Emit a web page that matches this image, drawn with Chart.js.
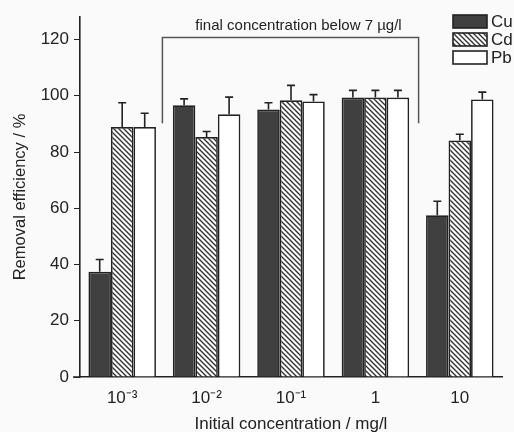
<!DOCTYPE html>
<html>
<head>
<meta charset="utf-8">
<script src="https://cdn.jsdelivr.net/npm/chart.js@4/dist/chart.umd.min.js"></script>
<style>
  html, body { margin: 0; padding: 0; background: #fafafa; }
  #wrap { width: 514px; height: 432px; }
</style>
</head>
<body>
<div id="wrap"><canvas id="chart" width="514" height="432"></canvas></div>
<script>
// data
const concentrations = ['10\u207B\u00B3', '10\u207B\u00B2', '10\u207B\u00B9', '1', '10'];
const cu = [37.4, 96.6, 95.1, 99.4, 57.5];
const cuErr = [4.4, 2.3, 2.4, 2.5, 5.0];
const cd = [88.9, 85.3, 98.4, 99.4, 84.1];
const cdErr = [8.6, 2.0, 5.3, 2.5, 2.2];
const pb = [88.9, 93.4, 98.0, 99.4, 98.7];
const pbErr = [4.9, 6.1, 2.4, 2.5, 2.6];
const yTicks = [0, 20, 40, 60, 80, 100, 120];
const bracketNote = 'final concentration below 7 \u00B5g/l';

const FONT = '"Liberation Sans", Arial, sans-serif';
const INK = '#222';

function makeHatch() {
    const s = 5;
    const c = document.createElement('canvas');
    c.width = s; c.height = s;
    const g = c.getContext('2d');
    g.fillStyle = '#ffffff';
    g.fillRect(0, 0, s, s);
    g.strokeStyle = '#333';
    g.lineWidth = 1.4;
    g.beginPath();
    for (const o of [-s, 0, s]) {
        g.moveTo(o - 1, -1);
        g.lineTo(o + s + 1, s + 1);
    }
    g.stroke();
    return g.createPattern(c, 'repeat');
}

const ctx = document.getElementById('chart').getContext('2d');
const hatch = makeHatch();
const errors = [cuErr, cdErr, pbErr];

const errorBars = {
    id: 'errorBars',
    afterDatasetsDraw(chart) {
        const g = chart.ctx;
        const y = chart.scales.y;
        g.save();
        g.strokeStyle = INK;
        g.lineWidth = 1.6;
        chart.data.datasets.forEach((ds, i) => {
            chart.getDatasetMeta(i).data.forEach((bar, j) => {
                const top = y.getPixelForValue(ds.data[j] + errors[i][j]);
                g.beginPath();
                g.moveTo(bar.x, bar.y);
                g.lineTo(bar.x, top);
                g.moveTo(bar.x - 4, top);
                g.lineTo(bar.x + 4, top);
                g.stroke();
            });
        });
        g.restore();
    }
};

const bracket = {
    id: 'bracket',
    afterDraw(chart) {
        const g = chart.ctx;
        const x = chart.scales.x, y = chart.scales.y;
        const x0 = x.getPixelForValue(0.5) - 2;
        const x1 = x.getPixelForValue(3.5) + 1;
        const yTop = y.getPixelForValue(120.7);
        const yEnd = y.getPixelForValue(90.2);
        g.save();
        g.strokeStyle = '#555';
        g.lineWidth = 1.5;
        g.beginPath();
        g.moveTo(x0, yEnd);
        g.lineTo(x0, yTop);
        g.lineTo(x1, yTop);
        g.lineTo(x1, yEnd);
        g.stroke();
        g.fillStyle = INK;
        g.font = '15px ' + FONT;
        g.textAlign = 'center';
        g.textBaseline = 'alphabetic';
        g.fillText(bracketNote, (x0 + x1) / 2 + 8, yTop - 8);
        // x axis runs a little past the y axis on the left
        const base = y.getPixelForValue(0);
        g.strokeStyle = INK;
        g.beginPath();
        g.moveTo(chart.chartArea.left - 7, base);
        g.lineTo(chart.chartArea.left, base);
        g.stroke();
        g.restore();
    }
};

const sideLegend = {
    id: 'sideLegend',
    afterDraw(chart) {
        const g = chart.ctx;
        g.save();
        g.font = '17px ' + FONT;
        g.textBaseline = 'middle';
        chart.data.datasets.forEach((ds, i) => {
            const top = 15 + i * 18;
            g.fillStyle = ds.backgroundColor;
            g.fillRect(453, top, 34, 13);
            g.strokeStyle = INK;
            g.lineWidth = 1.6;
            g.strokeRect(453, top, 34, 13);
            g.fillStyle = INK;
            g.fillText(ds.label, 491, top + 7);
        });
        g.restore();
    }
};

const paper = {
    id: 'paper',
    beforeDraw(chart) {
        const g = chart.ctx;
        g.save();
        g.fillStyle = '#fafafa';
        g.fillRect(0, 0, chart.width, chart.height);
        g.restore();
    }
};

new Chart(ctx, {
    type: 'bar',
    data: {
        labels: concentrations,
        datasets: [
            { label: 'Cu', data: cu, backgroundColor: '#404040' },
            { label: 'Cd', data: cd, backgroundColor: hatch },
            { label: 'Pb', data: pb, backgroundColor: '#ffffff' }
        ]
    },
    options: {
        responsive: false,
        animation: false,
        layout: { padding: { top: 17, right: 12, left: 0, bottom: 0 } },
        datasets: {
            bar: {
                borderColor: INK,
                borderWidth: 1.7,
                barPercentage: 1,
                categoryPercentage: 0.8
            }
        },
        plugins: {
            legend: { display: false },
            tooltip: { enabled: false }
        },
        scales: {
            x: {
                grid: { display: false, drawOnChartArea: false, drawTicks: true, tickLength: 6, tickColor: INK },
                border: { color: INK, width: 1.6 },
                ticks: { color: INK, font: { family: FONT, size: 17 }, padding: 5 },
                title: {
                    display: true,
                    text: 'Initial concentration / mg/l',
                    color: INK,
                    font: { family: FONT, size: 17 },
                    padding: { top: 4, bottom: -3 }
                },
                afterFit(scale) { scale.height = 55; }
            },
            y: {
                min: 0,
                max: 128,
                grid: { drawOnChartArea: false, drawTicks: true, tickLength: 6, tickColor: INK },
                border: { color: INK, width: 1.6 },
                afterBuildTicks(scale) {
                    scale.ticks = yTicks.map(v => ({ value: v }));
                },
                ticks: { color: INK, font: { family: FONT, size: 17 }, padding: 5 },
                title: {
                    display: true,
                    text: 'Removal efficiency / %',
                    color: INK,
                    font: { family: FONT, size: 16.5 },
                    padding: { top: 11 }
                },
                afterFit(scale) { scale.width = 80; }
            }
        }
    },
    plugins: [paper, errorBars, bracket, sideLegend]
});
</script>
</body>
</html>
